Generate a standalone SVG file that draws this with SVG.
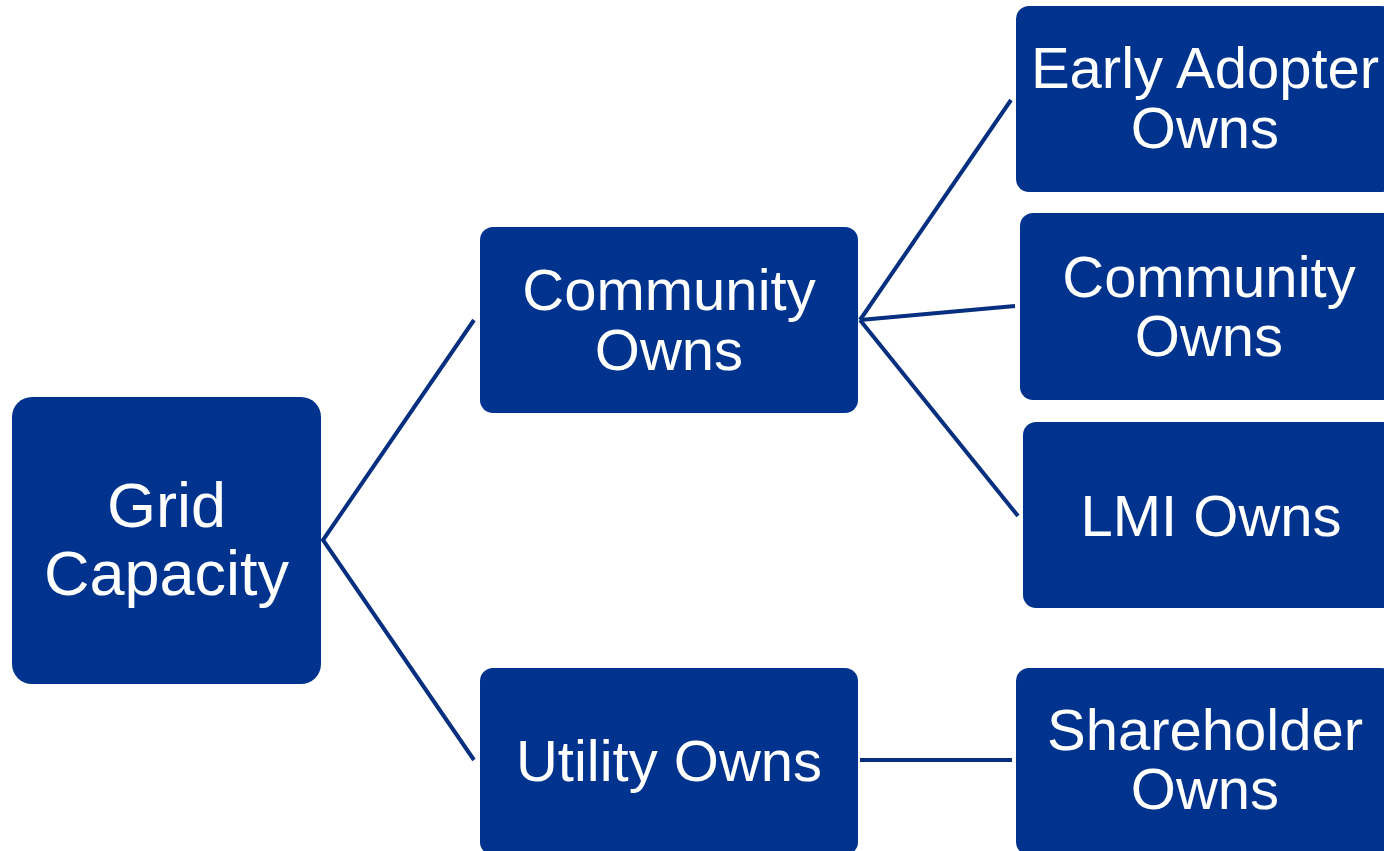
<svg xmlns="http://www.w3.org/2000/svg" width="1384" height="851" viewBox="0 0 1384 851">
<style>
.box{fill:#00338D}
.lbl{font-family:"Liberation Sans",Arial,sans-serif;fill:#FFFFFF;text-anchor:middle;font-size:58px}
.big{font-size:63px}
.conn{stroke:#062F80;stroke-width:4;fill:none}
</style>
<rect width="1384" height="851" fill="#FFFFFF"/>
<g id="connectors">
<polyline class="conn" points="474,320 323,540 474,760"/>
<line class="conn" x1="860" y1="320" x2="1011" y2="100"/>
<line class="conn" x1="860" y1="320" x2="1015" y2="306"/>
<line class="conn" x1="860" y1="320" x2="1018" y2="516"/>
<line class="conn" x1="860" y1="760" x2="1012" y2="760"/>
</g>
<g id="grid-capacity">
<rect class="box" x="12" y="397" width="309" height="287" rx="20"/>
<text class="lbl big" x="166.5" y="527">Grid</text>
<text class="lbl big" x="166.5" y="595">Capacity</text>
</g>
<g id="community-owns">
<rect class="box" x="480" y="227" width="378" height="186" rx="13"/>
<text class="lbl" x="669" y="310">Community</text>
<text class="lbl" x="669" y="370">Owns</text>
</g>
<g id="utility-owns">
<rect class="box" x="480" y="668" width="378" height="187" rx="13"/>
<text class="lbl" x="669" y="781">Utility Owns</text>
</g>
<g id="early-adopter-owns">
<rect class="box" x="1016" y="6" width="378" height="186" rx="13"/>
<text class="lbl" x="1205" y="88">Early Adopter</text>
<text class="lbl" x="1205" y="148">Owns</text>
</g>
<g id="community-owns-2">
<rect class="box" x="1020" y="213" width="378" height="187" rx="13"/>
<text class="lbl" x="1209" y="297">Community</text>
<text class="lbl" x="1209" y="356">Owns</text>
</g>
<g id="lmi-owns">
<rect class="box" x="1023" y="422" width="378" height="186" rx="13"/>
<text class="lbl" x="1211" y="536">LMI Owns</text>
</g>
<g id="shareholder-owns">
<rect class="box" x="1016" y="668" width="378" height="187" rx="13"/>
<text class="lbl" x="1205" y="750">Shareholder</text>
<text class="lbl" x="1205" y="809">Owns</text>
</g>
</svg>
